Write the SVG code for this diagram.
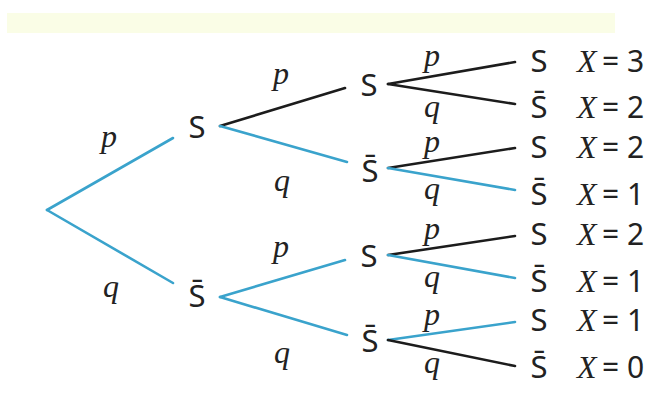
<svg xmlns="http://www.w3.org/2000/svg" width="648" height="396" viewBox="0 0 648 396">
<style>
.b{stroke:#3aa3cc;stroke-width:2.6;fill:none;stroke-linecap:round}
.k{stroke:#1c1c1c;stroke-width:2.6;fill:none;stroke-linecap:round}
.n{font-family:"Noto Sans","Open Sans",sans-serif;font-size:31px;fill:#222;text-anchor:middle}
.l{font-family:"Liberation Serif",serif;font-style:italic;font-size:32px;fill:#222;text-anchor:middle}
.x{font-family:"Noto Sans","Open Sans",sans-serif;font-size:30px;fill:#222}
.xi{font-family:"Liberation Serif",serif;font-style:italic;font-size:32px}
</style>
<rect x="7" y="13" width="608" height="20" fill="#fafde6"/>
<g id="connectors">
<line class="b" x1="47" y1="210" x2="173" y2="138"/>
<line class="b" x1="47" y1="210" x2="173" y2="283"/>
<line class="k" x1="220" y1="126" x2="345" y2="88"/>
<line class="b" x1="220" y1="126" x2="347" y2="162"/>
<line class="b" x1="220" y1="297" x2="345" y2="260"/>
<line class="b" x1="220" y1="297" x2="347" y2="335"/>
<line class="k" x1="388" y1="84" x2="515" y2="62"/>
<line class="k" x1="388" y1="84" x2="515" y2="104"/>
<line class="k" x1="388" y1="168" x2="515" y2="148"/>
<line class="b" x1="388" y1="168" x2="515" y2="190"/>
<line class="k" x1="388" y1="255" x2="515" y2="236"/>
<line class="b" x1="388" y1="255" x2="515" y2="278"/>
<line class="b" x1="388" y1="340" x2="515" y2="322"/>
<line class="k" x1="388" y1="340" x2="515" y2="366"/>
</g>
<g id="edge-labels">
<text class="l" x="109" y="147">p</text>
<text class="l" x="111" y="297">q</text>
<text class="l" x="281" y="84">p</text>
<text class="l" x="282" y="191">q</text>
<text class="l" x="281" y="257">p</text>
<text class="l" x="282" y="363">q</text>
<text class="l" x="432" y="66">p</text>
<text class="l" x="432" y="117">q</text>
<text class="l" x="432" y="152">p</text>
<text class="l" x="432" y="199">q</text>
<text class="l" x="432" y="239">p</text>
<text class="l" x="432" y="287">q</text>
<text class="l" x="432" y="325">p</text>
<text class="l" x="432" y="373">q</text>
</g>
<g id="n1"><text class="n" x="197" y="138">S</text></g>
<g id="n2"><text class="n" x="197" y="307">S&#x304;</text></g>
<g id="n11"><text class="n" x="369" y="96">S</text></g>
<g id="n12"><text class="n" x="370" y="182">S&#x304;</text></g>
<g id="n21"><text class="n" x="369" y="267">S</text></g>
<g id="n22"><text class="n" x="370" y="352">S&#x304;</text></g>
<g id="leaf1"><text class="n" x="539" y="72">S</text><text class="x" y="72"><tspan class="xi" x="577">X</tspan><tspan x="602">=</tspan><tspan x="627">3</tspan></text></g>
<g id="leaf2"><text class="n" x="539" y="118">S&#x304;</text><text class="x" y="118"><tspan class="xi" x="577">X</tspan><tspan x="602">=</tspan><tspan x="627">2</tspan></text></g>
<g id="leaf3"><text class="n" x="539" y="158">S</text><text class="x" y="158"><tspan class="xi" x="577">X</tspan><tspan x="602">=</tspan><tspan x="627">2</tspan></text></g>
<g id="leaf4"><text class="n" x="539" y="205">S&#x304;</text><text class="x" y="205"><tspan class="xi" x="577">X</tspan><tspan x="602">=</tspan><tspan x="627">1</tspan></text></g>
<g id="leaf5"><text class="n" x="539" y="245">S</text><text class="x" y="245"><tspan class="xi" x="577">X</tspan><tspan x="602">=</tspan><tspan x="627">2</tspan></text></g>
<g id="leaf6"><text class="n" x="539" y="292">S&#x304;</text><text class="x" y="292"><tspan class="xi" x="577">X</tspan><tspan x="602">=</tspan><tspan x="627">1</tspan></text></g>
<g id="leaf7"><text class="n" x="539" y="331">S</text><text class="x" y="331"><tspan class="xi" x="577">X</tspan><tspan x="602">=</tspan><tspan x="627">1</tspan></text></g>
<g id="leaf8"><text class="n" x="539" y="378">S&#x304;</text><text class="x" y="378"><tspan class="xi" x="577">X</tspan><tspan x="602">=</tspan><tspan x="627">0</tspan></text></g>
</svg>
